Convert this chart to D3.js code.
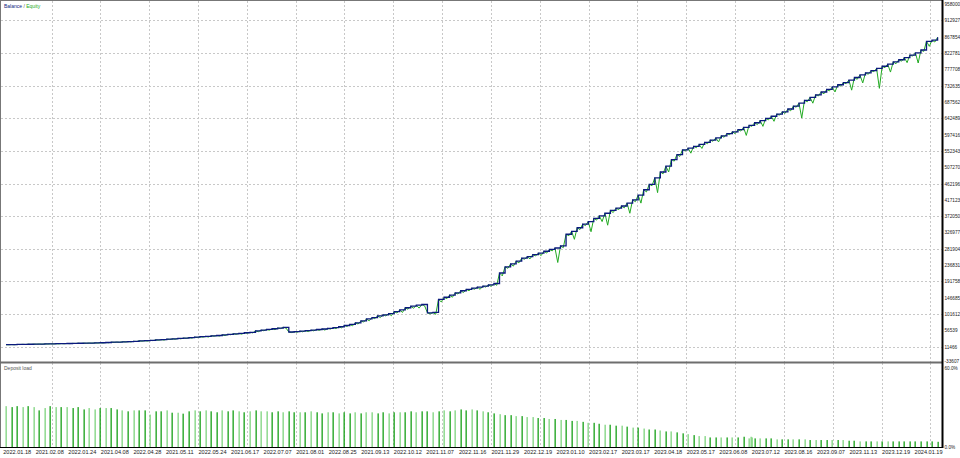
<!DOCTYPE html>
<html><head><meta charset="utf-8">
<script src="https://cdn.jsdelivr.net/npm/d3@7"></script>
<style>
html,body{margin:0;padding:0;background:#fff;}
svg{display:block;}
text{font-family:"Liberation Sans",Arial,sans-serif;}
</style></head>
<body>
<div id="chart"></div>
<script>
// ---- data (values in thousands of account currency) ----
const dateLabels = ["2022.01.18","2021.02.08","2022.01.24","2021.04.08","2022.04.28","2021.05.11","2022.05.24","2021.06.17","2022.07.07","2021.08.01","2022.08.25","2021.09.13","2022.10.12","2021.11.07","2022.11.16","2021.11.29","2022.12.19","2023.01.10","2023.02.17","2023.03.17","2023.04.18","2023.05.17","2023.06.08","2023.07.12","2023.08.16","2023.09.07","2023.11.13","2023.12.19","2024.01.19"];
const yTickLabels = ["-33607","11466","56539","101612","146685","191758","236831","281904","326977","372050","417123","462196","507270","552343","597416","642489","687562","732635","777708","822781","867854","912927","958000"];
const loadTickLabels = ["0.0%","60.0%"];

const balance = [
17.0,17.3,17.6,17.9,18.2,18.5,18.8,19.1,19.4,19.7,20.0,20.3,20.6,20.9,21.2,21.5,21.9,22.3,
23.0,23.8,24.1,25.0,25.6,26.3,27.5,28.0,28.9,30.2,31.0,32.1,33.0,34.4,35.2,36.5,37.6,39.0,
39.8,41.5,42.3,44.0,45.6,47.1,48.0,49.9,51.2,55.0,57.0,59.0,61.0,63.0,64.8,
52.0,
53.0,54.5,55.8,57.0,58.9,60.3,62.0,
64.0,66.5,70.0,73.0,77.5,
82.5,88.0,92.0,96.5,99.5,103.0,108.5,113.0,
119.0,123.5,126.0,128.0,
105.0,106.0,
142.0,148.0,154.0,160.0,166.0,
170.0,173.0,176.0,179.0,182.0,186.0,
215.0,232.0,
240.0,248.0,256.0,260.0,266.0,270.0,275.0,280.0,284.0,290.0,
322.0,330.0,340.0,350.0,357.0,366.0,373.0,
380.0,388.0,394.0,400.0,408.0,417.0,
430.0,445.0,460.0,478.0,494.0,
510.0,528.0,542.0,555.0,
560.0,565.0,570.0,576.0,
582.0,588.0,594.0,600.0,605.0,611.0,617.0,
623.0,630.0,636.0,642.0,648.0,654.0,660.0,
668.0,676.0,684.0,692.0,700.0,707.0,715.0,
722.0,729.0,735.0,741.0,748.0,755.0,762.0,
768.0,774.0,780.0,786.0,792.0,798.0,804.0,
810.0,817.0,823.0,831.0,
855.0,858.0,866.0];

// floating loss inside each trade (equity low = balance - loss)
const floatLoss = [
0.3,0.5,0.3,0.4,0.6,0.3,0.5,0.4,0.3,0.6,
0.5,0.4,0.3,0.7,0.5,0.4,0.6,0.5,0.8,0.6,
0.7,0.5,0.9,0.6,0.8,1.0,0.7,0.9,1.2,0.8,
1.0,1.3,0.9,1.5,1.1,1.2,1.6,1.0,1.4,1.8,
1.2,1.5,2.0,1.3,1.7,2.2,1.4,1.9,2.5,1.6,
2.0,1.5,1.5,2.0,2.5,1.8,2.2,3.0,2.0,2.5,
3.0,2.5,4.0,3.5,3.0,5.0,3.0,4.5,3.0,6.0,
4.0,7.0,4.0,6.0,8.0,4.0,3.0,5.0,7.0,4.0,
6.0,3.0,5.0,4.0,3.0,6.0,3.0,4.0,5.0,8.0,
4.0,6.0,5.0,3.0,6.0,4.0,7.0,5.0,4.0,40.0,
5.0,4.0,22.0,5.0,4.0,28.0,5.0,16.0,33.0,6.0,
4.0,5.0,28.0,5.0,22.0,6.0,4.0,41.0,5.0,16.0,
4.0,5.0,3.0,14.0,4.0,11.0,4.0,3.0,11.0,4.0,
3.0,5.0,4.0,22.0,3.0,5.0,16.0,4.0,14.0,3.0,
4.0,5.0,3.0,41.0,4.0,16.0,3.0,5.0,4.0,14.0,
4.0,3.0,28.0,5.0,22.0,4.0,3.0,55.0,4.0,22.0,
5.0,4.0,14.0,3.0,28.0,4.0,14.0,5.0];

// deposit load per trade, %
const load = [
29.9,29.2,29.9,29.2,29.9,29.2,26.8,28.5,29.9,29.2,29.2,29.2,28.5,29.2,27.5,28.5,27.5,28.5,28.5,28.5,27.5,26.8,26.1,26.8,26.8,26.8,23.7,26.1,26.1,26.8,25.1,25.1,24.4,
26.1,26.8,26.1,26.8,26.1,25.4,26.8,26.1,26.8,26.1,25.4,26.1,26.8,26.1,26.1,25.4,26.1,25.4,26.1,25.4,25.4,
25.4,26.1,25.4,24.6,25.4,25.4,24.6,25.4,24.6,25.4,24.6,25.4,25.4,24.6,25.4,24.6,25.4,25.4,
25.4,26.1,25.4,26.1,26.1,25.4,26.1,26.8,26.1,26.8,27.5,26.8,27.5,26.8,26.1,25.4,
24.6,24.0,23.3,23.3,22.6,22.6,21.9,21.9,21.2,21.2,20.5,20.5,
19.8,19.8,19.1,19.1,18.4,17.7,17.7,17.0,16.3,16.3,15.6,15.6,14.9,14.2,14.2,
13.5,12.8,12.8,12.1,11.4,11.4,10.7,10.0,9.4,8.7,8.0,
8.0,7.0,7.0,7.0,7.0,7.0,7.0,7.5,6.3,6.3,6.3,6.3,6.3,5.6,5.6,5.6,5.6,5.6,5.6,5.1,5.1,5.1,5.1,5.1,5.1,5.1,4.6,4.6,4.1,4.1,4.1,4.1,4.1,4.1,4.1,4.1,4.1,4.1,4.1,4.1,4.1,4.1,3.8];
// extra closely spaced trades (trade index, load %)
const extraLoadIdx = [134.3,134.6];
const extraLoadVal = [7.5,7.0];
// bar shade: D = dark, L = light
const loadKind = "LDDLDLDLDLDLDDDLLDLDDLDLDDLDDLDLDDLDLDDLDDLDLDLLDDLDDLDLDDLDLDDLDLLDDLDLDDLDDLDLDLDDLDLDDLDDLDLLDDLDLDDLDLDDLDDLDLDLDDLDLDDLDLLDDLDLDDLDLDDLDDLDLDLDDLDLDDLDDLDLD";

// ---- layout ----
const W = 960, H = 458;
const plotL = 1, plotR = 942;
const mainT = 1, mainB = 362;
const subT = 363, subB = 447;

const svg = d3.select("#chart").append("svg").attr("width", W).attr("height", H);

const x = d3.scaleLinear().domain([0, balance.length - 1]).range([6, 937.6]);
const yTicks = yTickLabels.map(Number);
const y = d3.scaleLinear().domain([yTicks[0] / 1000, yTicks[yTicks.length - 1] / 1000]).range([363, 4]);
const yL = d3.scaleLinear().domain([0, 60]).range([subB, 365]);
const xLab = d3.scalePoint().domain(dateLabels).range([2.7, 2.7 + 32.55 * (dateLabels.length - 1)]);
// label-slot scale for grid columns (one grid column every 1.5 label slots)
const slot = d3.scaleLinear().domain([0, dateLabels.length - 1]).range(xLab.range());
const gridSlots = d3.range(1.5, 29, 1.5);

// grid
const gridColor = "#c8c8c8";
const g = svg.append("g");
g.selectAll("line.hg").data(yTicks.filter((d, i) => i % 2 === 1)).enter().append("line")
  .attr("x1", plotL).attr("x2", plotR)
  .attr("y1", d => Math.round(y(d / 1000)) + 0.5).attr("y2", d => Math.round(y(d / 1000)) + 0.5)
  .attr("stroke", gridColor).attr("stroke-dasharray", "2,2");
["main", "sub"].forEach(p => {
  g.selectAll("line.vg" + p).data(gridSlots).enter().append("line")
    .attr("x1", d => Math.round(slot(d)) + 0.5).attr("x2", d => Math.round(slot(d)) + 0.5)
    .attr("y1", p === "main" ? mainT : subT).attr("y2", p === "main" ? mainB : subB)
    .attr("stroke", gridColor).attr("stroke-dasharray", "2,2");
});

// equity line
const eqPts = [];
balance.forEach((b, i) => {
  eqPts.push([i, b]);
  if (i < floatLoss.length) eqPts.push([i + 0.5, b - floatLoss[i]]);
});
const line = d3.line().x(d => x(d[0])).y(d => y(d[1]));
svg.append("path").datum(eqPts).attr("d", line).attr("fill", "none")
  .attr("stroke", "#22aa22").attr("stroke-width", 1);
// balance step line
const balPts = balance.map((b, i) => [i, b]);
svg.append("path").datum(balPts).attr("d", d3.line().x(d => x(d[0])).y(d => y(d[1])).curve(d3.curveStepAfter))
  .attr("fill", "none").attr("stroke", "#0b1a7d").attr("stroke-width", 1.3);

// deposit load bars
const bars = load.map((v, i) => ({i, v, k: loadKind[i] || "D"}));
extraLoadIdx.forEach((ix, j) => bars.push({i: ix, v: extraLoadVal[j], k: "L"}));
svg.append("g").selectAll("rect").data(bars).enter().append("rect")
  .attr("x", d => Math.round(x(d.i)) - 0.5).attr("width", 1.3)
  .attr("y", d => yL(d.v)).attr("height", d => subB - yL(d.v))
  .attr("fill", d => d.k === "D" ? "#16a016" : "#7ed47e");

// frames
svg.append("line").attr("x1", 0).attr("x2", plotR).attr("y1", 0.5).attr("y2", 0.5).attr("stroke", "#777");
svg.append("line").attr("x1", 0.5).attr("x2", 0.5).attr("y1", 0).attr("y2", subB).attr("stroke", "#777");
svg.append("line").attr("x1", 0).attr("x2", plotR).attr("y1", 362.5).attr("y2", 362.5).attr("stroke", "#6e6e6e").attr("stroke-width", 2);
svg.append("line").attr("x1", plotR + 0.5).attr("x2", plotR + 0.5).attr("y1", 0).attr("y2", subB + 1).attr("stroke", "#000").attr("stroke-width", 2);
svg.append("line").attr("x1", 0).attr("x2", plotR).attr("y1", subB + 0.5).attr("y2", subB + 0.5).attr("stroke", "#000");

// axes
const yAxis = d3.axisRight(y).tickValues(yTicks.map(d => d / 1000)).tickSize(0).tickPadding(1.5)
  .tickFormat((d, i) => yTickLabels[i]);
const ya = svg.append("g").attr("transform", `translate(${plotR + 1},0)`).call(yAxis);
ya.select(".domain").remove();
ya.selectAll("text").attr("font-size", 4.7).attr("fill", "#222").attr("font-family", "Liberation Sans");
ya.selectAll(".tick").filter((d, i) => i === 0).select("text").attr("dy", "-0.1em");

const lAxis = d3.axisRight(yL).tickValues([0, 60]).tickSize(0).tickPadding(1.5)
  .tickFormat((d, i) => loadTickLabels[i]);
const la = svg.append("g").attr("transform", `translate(${plotR + 1},0)`).call(lAxis);
la.select(".domain").remove();
la.selectAll("text").attr("font-size", 4.7).attr("fill", "#222").attr("font-family", "Liberation Sans");
la.selectAll(".tick").filter(d => d === 60).select("text").attr("dy", "0.9em");

const xAxis = d3.axisBottom(xLab).tickSize(0).tickPadding(2);
const xa = svg.append("g").attr("transform", `translate(0,${subB + 1})`).call(xAxis);
xa.select(".domain").remove();
xa.selectAll("text").attr("font-size", 5.6).attr("fill", "#222").attr("text-anchor", "start").attr("font-family", "Liberation Sans");

// legends
const leg = svg.append("text").attr("x", 4).attr("y", 8).attr("font-size", 5);
leg.append("tspan").attr("fill", "#0b1a7d").text("Balance");
leg.append("tspan").attr("fill", "#555").text(" / ");
leg.append("tspan").attr("fill", "#22aa22").text("Equity");
svg.append("text").attr("x", 4).attr("y", 370).attr("font-size", 5).attr("fill", "#555").text("Deposit load");
</script>
</body></html>
